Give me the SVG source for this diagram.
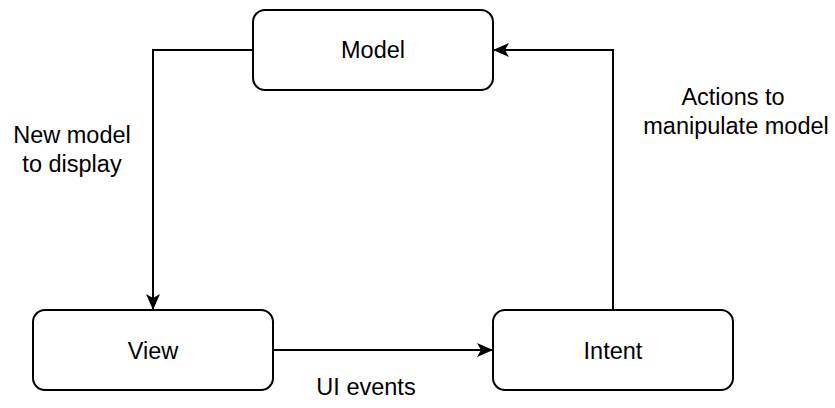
<svg xmlns="http://www.w3.org/2000/svg" width="835" height="408" viewBox="0 0 835 408">
<style>
.box{fill:#fff;stroke:#000;stroke-width:2}
.lbl{font-family:"Liberation Sans",Arial,sans-serif;font-size:23.5px;fill:#000;text-anchor:middle}
.edge{fill:none;stroke:#000;stroke-width:2}
</style>
<defs>
<marker id="arr" viewBox="0 0 16 14" refX="16" refY="7" markerWidth="16" markerHeight="14" markerUnits="userSpaceOnUse" orient="auto">
<path d="M0,0 L16,7 L0,14 L4,7 Z" fill="#000"/>
</marker>
</defs>
<rect width="835" height="408" fill="#fff"/>
<g id="edges">
<path class="edge" d="M253,50 H153 V310" marker-end="url(#arr)"/>
<path class="edge" d="M273,350 H493" marker-end="url(#arr)"/>
<path class="edge" d="M613,310 V50 H493" marker-end="url(#arr)"/>
<text class="lbl" x="72" y="143">New model</text>
<text class="lbl" x="72" y="172">to display</text>
<text class="lbl" x="733" y="105">Actions to</text>
<text class="lbl" x="736" y="134">manipulate model</text>
<text class="lbl" x="366" y="395">UI events</text>
</g>
<g id="model">
<rect class="box" x="253" y="10" width="240" height="80" rx="12"/>
<text class="lbl" x="373" y="58">Model</text>
</g>
<g id="view">
<rect class="box" x="33" y="310" width="240" height="80" rx="12"/>
<text class="lbl" x="153" y="359">View</text>
</g>
<g id="intent">
<rect class="box" x="493" y="310" width="240" height="80" rx="12"/>
<text class="lbl" x="613" y="359">Intent</text>
</g>
</svg>
